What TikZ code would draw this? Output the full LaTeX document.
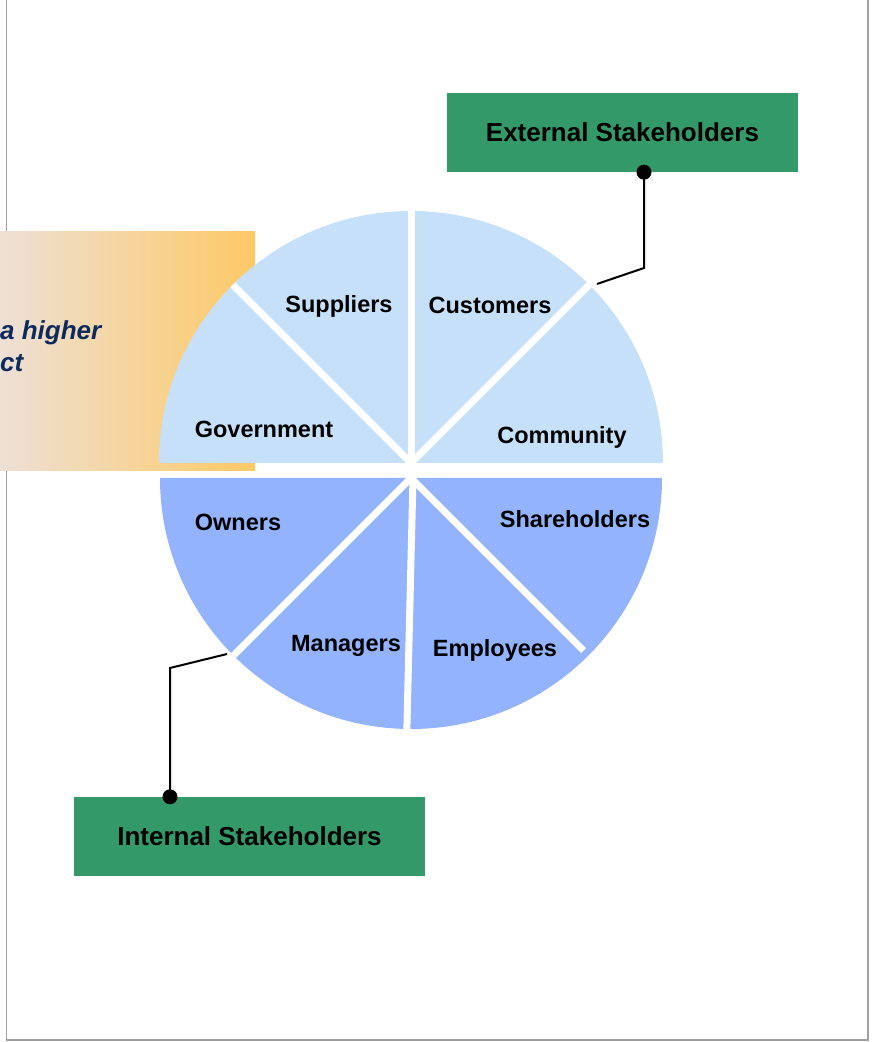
\documentclass[tikz,border=0pt]{standalone}
\usepackage{fontspec}
\setmainfont{Liberation Sans}
\usepackage{tikz}
\usetikzlibrary{positioning}
\definecolor{upperblue}{RGB}{199,224,250}
\definecolor{lowerblue}{RGB}{147,179,254}
\definecolor{boxgreen}{RGB}{52,153,104}
\definecolor{sloganblue}{RGB}{14,42,92}
\definecolor{paleorange}{RGB}{238,224,214}
\definecolor{deeporange}{RGB}{253,201,102}
\definecolor{framegray}{RGB}{160,160,160}

\begin{document}
\begin{tikzpicture}[
    x=1pt, y=1pt,
    slice/.style={font=\fontsize{23.5}{28}\selectfont\bfseries, inner sep=0pt, anchor=base},
    slogan/.style={font=\fontsize{26}{30}\selectfont\bfseries\itshape, text=sloganblue,
inner sep=0pt, anchor=base west},
    group/.style={fill=boxgreen, font=\fontsize{26}{30}\selectfont\bfseries,
minimum width=351pt, minimum height=79pt, inner sep=0pt},
    divider/.style={draw=white, line width=7pt},
    leader/.style={draw, line width=2pt},
    pin/.style={fill, circle, inner sep=0pt, minimum size=15pt}]

    \useasboundingbox (0,0) rectangle (871,1042);
    \draw[framegray, line width=1.5pt] (6.5,1042) -- (6.5,2) -- (868,2) -- (868,1042);

    % banner behind the pie
    \fill[left color=paleorange, right color=deeporange] (0,571) rectangle (255,810);
    \node[slogan] (slogantop) at (0,702) {a higher};
    \node[slogan] (sloganbottom) at (0,670) {ct};

    % the two halves
    \coordinate (U) at (411,579);
    \coordinate (L) at (411,564);
    \fill[upperblue] (U) ++(252,0) arc[start angle=0, end angle=180, radius=252] -- cycle;
    \fill[lowerblue] (L) ++(-251,0) arc[start angle=180, end angle=360, radius=251] -- cycle;
    \foreach \a in {45,90,135}
        \draw[divider] (U) -- ++(\a:252);
    \draw[divider] (L) -- ++(225:251);
    \draw[divider] ([xshift=2pt]L) -- ++(268.6:251);
    \draw[divider] (L) -- ++(315:244);

    \node[slice] (suppliers) at (339,729) {Suppliers};
    \node[slice] (customers) at (490,728) {Customers};
    \node[slice] (government) at (264,604) {Government};
    \node[slice] (community) at (562,598) {Community};
    \node[slice] (owners) at (238,511) {Owners};
    \node[slice] (shareholders) at (575,514) {Shareholders};
    \node[slice] (managers) at (346,390) {Managers};
    \node[slice] (employees) at (495,385) {Employees};

    % stakeholder groups
    \node[group] (external) at (622.5,909.5) {External Stakeholders};
    \node[group] (internal) at (249.5,205.5) {Internal Stakeholders};

    \coordinate (extpin) at ([xshift=21.5pt]external.south);
    \coordinate (extbend) at (644,774);
    \coordinate (extend) at (597,758);
    \draw[leader] (extpin) -- (extbend) -- (extend);
    \node[pin] at (extpin) {};

    \coordinate (intpin) at ([xshift=-79.5pt]internal.north);
    \coordinate (intbend) at (170,374);
    \coordinate (intend) at (227,388);
    \draw[leader] (intpin) -- (intbend) -- (intend);
    \node[pin] at (intpin) {};

\end{tikzpicture}
\end{document}
